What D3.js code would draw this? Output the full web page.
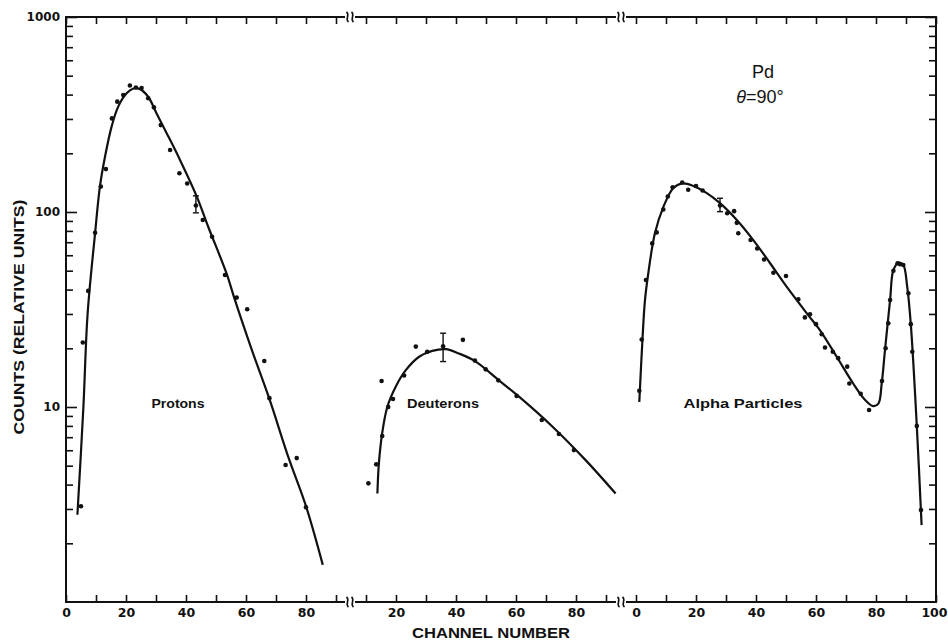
<!DOCTYPE html>
<html>
<head>
<meta charset="utf-8">
<script src="https://cdn.jsdelivr.net/npm/d3@7"></script>
<style>
  body { margin: 0; background: #fff; }
  text { font-family: "Liberation Sans", Arial, sans-serif; fill: #111; }
  .tick line { stroke: #111; stroke-width: 1.6; }
  .tick text { font-family: "DejaVu Sans", sans-serif; font-weight: bold; fill: #111; }
</style>
</head>
<body>
<svg id="chart" width="948" height="641"></svg>
<script>
// ---- data: [channel, counts] ----
const protonPoints = [[5,3.1],[5.6,21.4],[7.4,39.4],[9.7,78.3],[11.6,135],[13.3,166],[15.3,302],[17.1,368],
  [19.1,398],[21.3,445],[23.3,435],[25.2,432],[27.4,383],[29.3,344],[31.6,279],[34.7,208],[37.8,158],
  [40.4,140],[43.3,108],[45.6,91],[48.7,74.7],[53,47.5],[56.9,36.4],[60.4,31.7],[66.1,17.2],[67.8,11.1],
  [73.2,5.04],[76.9,5.47],[80,3.06]];
const protonFit = [[3.8,2.8],[5.8,10],[7.2,30],[9.7,78],[11.3,135],[13,192],[15.2,274],[17.4,347],[20.2,406],
  [22.5,430],[24.5,428],[27.4,390],[30.2,320],[33.6,253],[38,185],[43.6,120],[47.4,84],[53.6,48],[56.3,35.4],
  [62,19.5],[67.8,11],[74,5.6],[80,3.1],[85.6,1.55]];

const deuteronPoints = [[10.8,4.06],[13.4,5.08],[15.4,7.1],[15.2,13.6],[17.4,10],[19,11],[22.7,14.5],[26.6,20.4],
  [30.4,19.2],[35.7,20.5],[42.3,22.1],[46.3,17.3],[49.9,15.6],[54.1,13.7],[60.2,11.4],[68.6,8.57],[74.3,7.27],
  [79.3,6.01]];
const deuteronFit = [[13.8,3.6],[14.3,5.15],[15.4,7.35],[17.1,10],[19.9,12.7],[23.2,15.4],[27.7,18.1],[32.1,19.4],
  [36.6,19.8],[41,18.8],[46.6,17.1],[54.3,13.7],[61,11.3],[72.1,7.95],[83.2,5.34],[93.2,3.6]];

const alphaPoints = [[1.1,12.1],[1.9,22.2],[3.3,44.8],[5.4,69],[6.9,78.6],[9.1,103],[10.6,120],[12.2,134],
  [15.4,141.6],[17.4,130],[20,136],[22.2,129],[28,108],[30.4,98.6],[32.7,101],[33.6,88],[34.1,77.8],[38.2,71.8],
  [40.4,65],[42.7,57.1],[45.8,48.8],[50,47],[54.1,35.7],[56.3,28.8],[58,29.9],[60,26.6],[61.9,23.6],[63,20.2],
  [65.6,19.2],[67.4,17.8],[70.4,16.1],[71.1,13.2],[74.9,11.7],[77.7,9.66],[82,13.6],[83.2,20],[84.1,26.9],
  [84.7,35.4],[85.8,50],[87.2,54.6],[88,54],[89.1,53.5],[90.8,38.3],[91.6,26.6],[92.1,19.2],[93.6,8],[95,2.96]];
const alphaFit = [[1.1,10.6],[2.2,22.9],[3,35.4],[4.1,48.5],[6.3,77.8],[9.1,106],[12.4,132.5],[15.4,140],
  [19.1,136],[23.6,125],[28,111],[33.6,91],[39.1,71.8],[44.7,54.6],[50.2,41.4],[57.4,29.6],[61.3,24.8],
  [66.9,18.1],[72.4,13.2],[76.3,10.9],[79.1,10.1],[80.8,10.4],[81.9,13.2],[83,19.6],[84.7,35.4],[85.8,50.4],
  [87.6,55],[89.1,53.5],[90.4,41.4],[91.6,26.6],[93.6,8],[95.2,2.48]];

// error bars: [channel, low, high]
const protonErr = [[43.3, 99, 121]];
const deuteronErr = [[35.7, 17.1, 23.9]];
const alphaErr = [[28, 100.4, 117.6]];

const protonTicks = [0,10,20,30,40,50,60,70,80,90];
const deuteronTicks = [10,20,30,40,50,60,70,80,90];
const alphaTicks = [0,10,20,30,40,50,60,70,80,90,100];
const majorY = [10, 100, 1000];

// ---- layout ----
const svg = d3.select("#chart");
const L = 66, R = 936, T = 17, B = 602;
const breaks = [350, 621];

const y = d3.scaleLog().domain([1, 1000]).range([B, T]);
const xP = d3.scaleLinear().domain([0, 100]).range([66, 366]);
const xD = d3.scaleLinear().domain([0, 100]).range([336, 636]);
const xA = d3.scaleLinear().domain([0, 100]).range([636, 936]);

const panels = [
  {x: xP, ticks: protonTicks, pts: protonPoints, fit: protonFit, err: protonErr, label: "Protons", lx: 178, lw: 53},
  {x: xD, ticks: deuteronTicks, pts: deuteronPoints, fit: deuteronFit, err: deuteronErr, label: "Deuterons", lx: 443, lw: 72},
  {x: xA, ticks: alphaTicks, pts: alphaPoints, fit: alphaFit, err: alphaErr, label: "Alpha Particles", lx: 743, lw: 119}
];

// ---- y axes ----
const minorY = y.ticks().filter(d => !majorY.includes(d) && d !== 1);

svg.append("g").attr("transform", `translate(${L},0)`)
  .call(d3.axisLeft(y).tickValues(minorY).tickSizeInner(-7).tickSizeOuter(0).tickFormat(""))
  .call(g => g.select(".domain").remove());
svg.append("g").attr("transform", `translate(${L},0)`)
  .call(d3.axisLeft(y).tickValues(majorY).tickSizeInner(-11).tickSizeOuter(0).tickPadding(6).tickFormat(d3.format("d")))
  .call(g => g.select(".domain").remove())
  .selectAll("text").style("font-size", "12px");
svg.append("g").attr("transform", `translate(${R},0)`)
  .call(d3.axisRight(y).tickValues(minorY).tickSizeInner(-7).tickSizeOuter(0).tickFormat(""))
  .call(g => g.select(".domain").remove());
svg.append("g").attr("transform", `translate(${R},0)`)
  .call(d3.axisRight(y).tickValues(majorY).tickSizeInner(-11).tickSizeOuter(0).tickFormat(""))
  .call(g => g.select(".domain").remove());

// ---- x axes (bottom and top) per panel ----
panels.forEach(p => {
  svg.append("g").attr("transform", `translate(0,${B})`)
    .call(d3.axisBottom(p.x).tickValues(p.ticks).tickSizeInner(-7).tickSizeOuter(0).tickPadding(6)
      .tickFormat(d => d % 20 === 0 ? d : ""))
    .call(g => g.select(".domain").remove())
    .selectAll("text").style("font-size", "12.5px")
    .filter(d => d === 100).attr("text-anchor", "end").attr("dx", 11);
  svg.append("g").attr("transform", `translate(0,${T})`)
    .call(d3.axisTop(p.x).tickValues(p.ticks).tickSizeInner(-7).tickSizeOuter(0).tickFormat(""))
    .call(g => g.select(".domain").remove());
});

// ---- frame with axis breaks ----
const frame = svg.append("g").attr("fill", "none").attr("stroke", "#111").attr("stroke-width", 2);
frame.append("line").attr("x1", L).attr("x2", L).attr("y1", T - 1).attr("y2", B + 1);
frame.append("line").attr("x1", R).attr("x2", R).attr("y1", T - 1).attr("y2", B + 1);
[T, B].forEach(yy => {
  const xs = [L, ...breaks.flatMap(b => [b - 5, b + 5]), R];
  for (let i = 0; i < xs.length; i += 2) {
    frame.append("line").attr("x1", xs[i]).attr("x2", xs[i + 1]).attr("y1", yy).attr("y2", yy);
  }
  breaks.forEach(b => {
    [b - 2.5, b + 2.5].forEach(sx => {
      frame.append("path").attr("stroke-width", 1.6)
        .attr("d", `M${sx - 1},${yy - 5} C${sx + 3},${yy - 2} ${sx - 3},${yy + 2} ${sx + 1},${yy + 5}`);
    });
  });
});

// ---- curves, points, error bars ----
panels.forEach(p => {
  const line = d3.line().x(d => p.x(d[0])).y(d => y(d[1])).curve(d3.curveCatmullRom.alpha(0.5));
  svg.append("path").datum(p.fit)
    .attr("d", line).attr("fill", "none").attr("stroke", "#111").attr("stroke-width", 2.2);
  svg.append("g").selectAll("circle").data(p.pts).join("circle")
    .attr("cx", d => p.x(d[0])).attr("cy", d => y(d[1])).attr("r", 2.3).attr("fill", "#111");
  const eb = svg.append("g").attr("stroke", "#111").attr("stroke-width", 1.4);
  p.err.forEach(e => {
    const cx = p.x(e[0]);
    eb.append("line").attr("x1", cx).attr("x2", cx).attr("y1", y(e[1])).attr("y2", y(e[2]));
    eb.append("line").attr("x1", cx - 3).attr("x2", cx + 3).attr("y1", y(e[1])).attr("y2", y(e[1]));
    eb.append("line").attr("x1", cx - 3).attr("x2", cx + 3).attr("y1", y(e[2])).attr("y2", y(e[2]));
  });
  svg.append("text").attr("x", p.lx).attr("y", 408).attr("text-anchor", "middle")
    .attr("textLength", p.lw).attr("lengthAdjust", "spacingAndGlyphs")
    .style("font-size", "13px").style("font-weight", "bold").text(p.label);
});

// ---- titles and annotations ----
svg.append("text").attr("x", 491).attr("y", 638).attr("text-anchor", "middle")
  .attr("textLength", 158).attr("lengthAdjust", "spacingAndGlyphs")
  .style("font-size", "14px").style("font-weight", "bold").text("CHANNEL NUMBER");
svg.append("text").attr("transform", "translate(24,317) rotate(-90)").attr("text-anchor", "middle")
  .attr("textLength", 235).attr("lengthAdjust", "spacingAndGlyphs")
  .style("font-size", "14px").style("font-weight", "bold").text("COUNTS (RELATIVE UNITS)");
svg.append("text").attr("x", 763).attr("y", 78).attr("text-anchor", "middle")
  .style("font-size", "18px").text("Pd");
const th = svg.append("text").attr("x", 760).attr("y", 103).attr("text-anchor", "middle").style("font-size", "18px");
th.append("tspan").style("font-style", "italic").text("θ");
th.append("tspan").text("=90°");
</script>
</body>
</html>
